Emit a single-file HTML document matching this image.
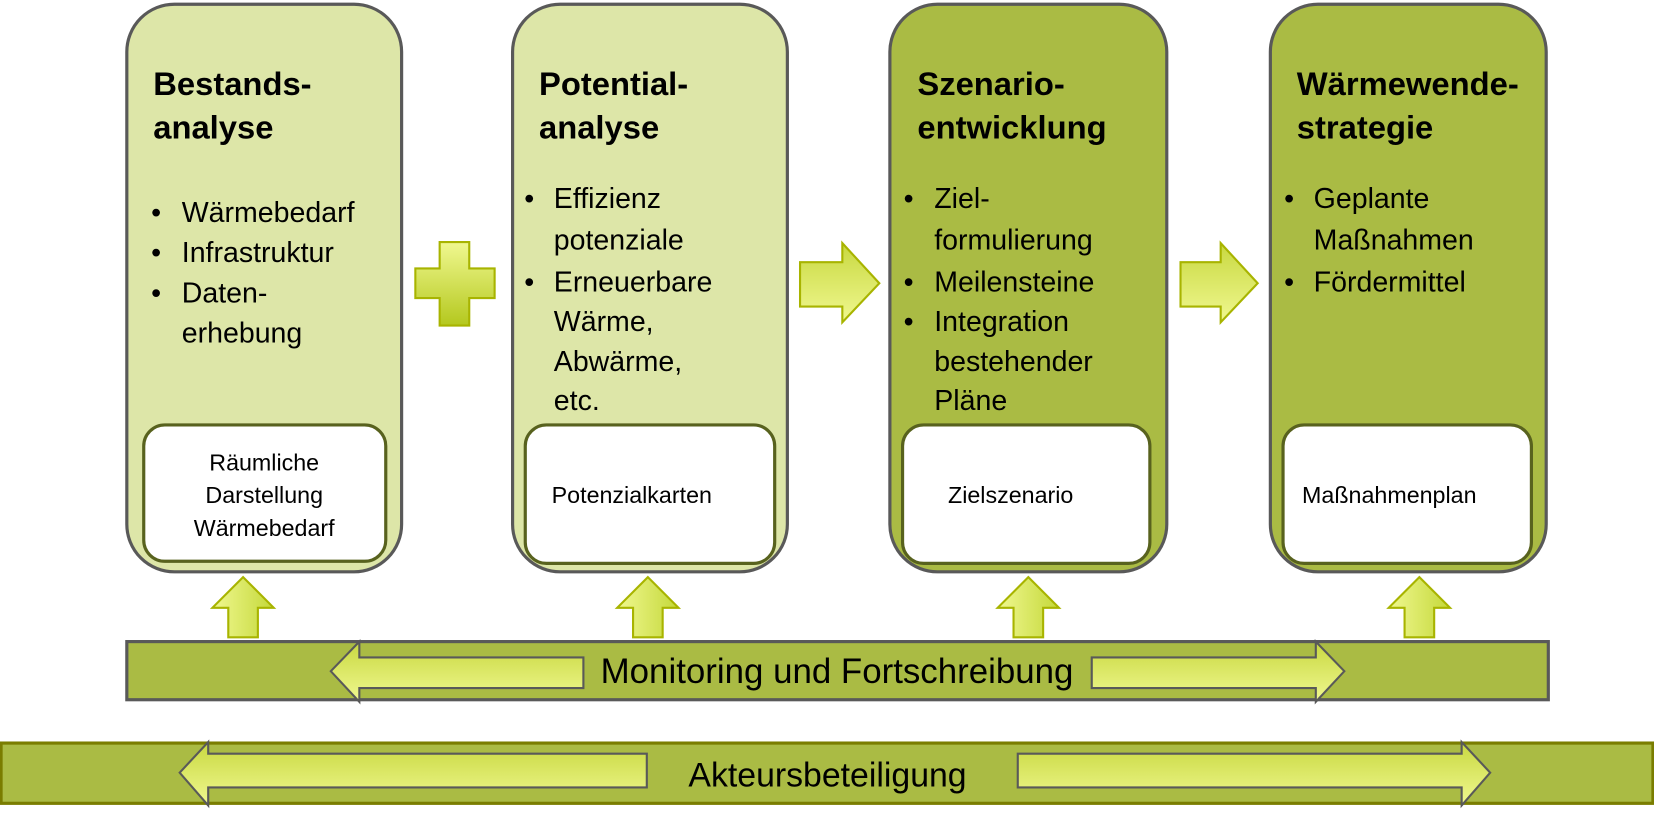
<!DOCTYPE html>
<html><head><meta charset="utf-8"><style>
html,body{margin:0;padding:0;background:#fff}
svg{display:block}
text{font-family:"Liberation Sans",sans-serif;fill:#000}
.t{font-size:31px;font-weight:bold}
.b{font-size:27px}
.s{font-size:22px}
</style></head><body>
<svg width="1654" height="816" viewBox="0 0 1565 772" preserveAspectRatio="none" xmlns="http://www.w3.org/2000/svg">
<defs>
<linearGradient id="gv" x1="0" y1="0" x2="0" y2="1"><stop offset="0" stop-color="#f0f890"/><stop offset="1" stop-color="#b4c81e"/></linearGradient>
<linearGradient id="gh" x1="0" y1="0" x2="1" y2="0"><stop offset="0" stop-color="#f0f890"/><stop offset="1" stop-color="#c4d83a"/></linearGradient>
<linearGradient id="gb" x1="0" y1="0" x2="0" y2="1"><stop offset="0" stop-color="#c8d840"/><stop offset="1" stop-color="#f0f890"/></linearGradient>
</defs>
<rect x="120" y="4" width="260" height="537" rx="45" fill="#dde6a8" stroke="#595959" stroke-width="3"/>
<rect x="485" y="4" width="260" height="537" rx="45" fill="#dde6a8" stroke="#595959" stroke-width="3"/>
<rect x="842" y="4" width="262" height="537" rx="45" fill="#aabb44" stroke="#595959" stroke-width="3"/>
<rect x="1202" y="4" width="261" height="537" rx="45" fill="#aabb44" stroke="#595959" stroke-width="3"/>
<rect x="136" y="402" width="229" height="129" rx="20" fill="#fff" stroke="#58621e" stroke-width="3"/>
<rect x="497" y="402" width="236" height="131" rx="20" fill="#fff" stroke="#58621e" stroke-width="3"/>
<rect x="854" y="402" width="234" height="131" rx="20" fill="#fff" stroke="#58621e" stroke-width="3"/>
<rect x="1214" y="402" width="235" height="131" rx="20" fill="#fff" stroke="#58621e" stroke-width="3"/>
<text class="t" x="145" y="90">Bestands-</text><text class="t" x="145" y="131">analyse</text>
<text class="t" x="510" y="90">Potential-</text><text class="t" x="510" y="131">analyse</text>
<text class="t" x="868" y="90">Szenario-</text><text class="t" x="868" y="131">entwicklung</text>
<text class="t" x="1227" y="90">Wärmewende-</text><text class="t" x="1227" y="131">strategie</text>
<g class="b">
<text x="143" y="210">•</text><text x="172" y="210">Wärmebedarf</text>
<text x="143" y="248">•</text><text x="172" y="248">Infrastruktur</text>
<text x="143" y="286">•</text><text x="172" y="286">Daten-</text><text x="172" y="324">erhebung</text>
<text x="496" y="197">•</text><text x="524" y="197">Effizienz</text><text x="524" y="236">potenziale</text>
<text x="496" y="276">•</text><text x="524" y="276">Erneuerbare</text><text x="524" y="313">Wärme,</text><text x="524" y="351">Abwärme,</text><text x="524" y="388">etc.</text>
<text x="855" y="197">•</text><text x="884" y="197">Ziel-</text><text x="884" y="236">formulierung</text>
<text x="855" y="276">•</text><text x="884" y="276">Meilensteine</text>
<text x="855" y="313">•</text><text x="884" y="313">Integration</text><text x="884" y="351">bestehender</text><text x="884" y="388">Pläne</text>
<text x="1215" y="197">•</text><text x="1243" y="197">Geplante</text><text x="1243" y="236">Maßnahmen</text>
<text x="1215" y="276">•</text><text x="1243" y="276">Fördermittel</text>
</g>
<g class="s">
<text x="250" y="445" text-anchor="middle">Räumliche</text>
<text x="250" y="476" text-anchor="middle">Darstellung</text>
<text x="250" y="507" text-anchor="middle">Wärmebedarf</text>
<text x="522" y="476">Potenzialkarten</text>
<text x="897" y="476">Zielszenario</text>
<text x="1232" y="476">Maßnahmenplan</text>
</g>
<path d="M416,229 H444 V254 H468 V282 H444 V308 H416 V282 H393 V254 H416 Z" fill="url(#gv)" stroke="#a8b400" stroke-width="2"/>
<path d="M757,248 H797 V230 L832,268 L797,305 V290 H757 Z" fill="url(#gb)" stroke="#a8b400" stroke-width="2"/>
<path d="M1117,248 H1155 V230 L1190,268 L1155,305 V290 H1117 Z" fill="url(#gb)" stroke="#a8b400" stroke-width="2"/>
<g fill="url(#gh)" stroke="#a8b400" stroke-width="2">
<path d="M230,546 L259,575 H244 V603 H216 V575 H201 Z"/>
<path d="M613,546 L642,575 H627 V603 H599 V575 H584 Z"/>
<path d="M973,546 L1002,575 H987 V603 H959 V575 H944 Z"/>
<path d="M1343,546 L1372,575 H1357 V603 H1329 V575 H1314 Z"/>
</g>
<rect x="120" y="607" width="1345" height="55" fill="#aabb44" stroke="#595959" stroke-width="3"/>
<path d="M313,635 L340,607 V622 H552 V651 H340 V664 Z" fill="url(#gb)" stroke="#595959" stroke-width="2"/>
<path d="M1272,635 L1245,607 V622 H1033 V651 H1245 V664 Z" fill="url(#gb)" stroke="#595959" stroke-width="2"/>
<text x="792" y="646" text-anchor="middle" style="font-size:33px">Monitoring und Fortschreibung</text>
<rect x="1" y="703" width="1563" height="57" fill="#aabb44" stroke="#7a7d00" stroke-width="3"/>
<path d="M170,731 L197,702 V713 H612 V745 H197 V762 Z" fill="url(#gb)" stroke="#595959" stroke-width="2"/>
<path d="M1410,731 L1383,702 V713 H963 V745 H1383 V762 Z" fill="url(#gb)" stroke="#595959" stroke-width="2"/>
<text x="783" y="744" text-anchor="middle" style="font-size:32px">Akteursbeteiligung</text>
</svg>
</body></html>
